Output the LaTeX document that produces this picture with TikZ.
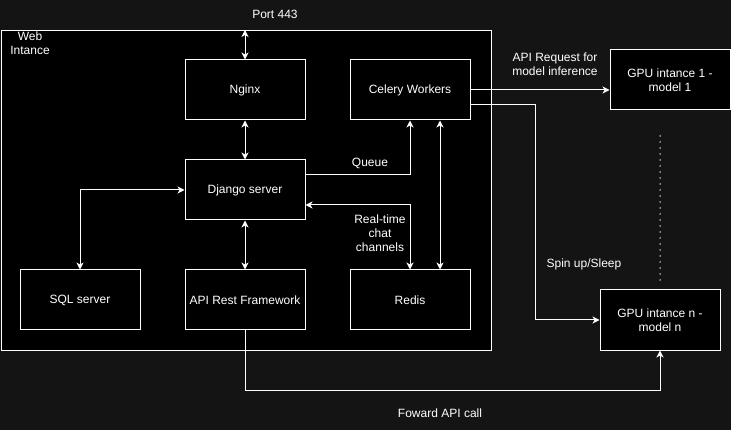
\documentclass[tikz,border=0pt]{standalone}
\usepackage{fontspec}
\setmainfont{Liberation Sans}
\usetikzlibrary{arrows.meta}
\definecolor{bgc}{RGB}{20,20,20}
\begin{document}
\begin{tikzpicture}[x=1pt,y=-1pt,
  box/.style={draw=white,fill=black,line width=1pt,minimum width=120pt,minimum height=60pt,inner sep=0pt,text=white,font=\fontsize{12}{14}\selectfont,align=center},
  lbl/.style={text=white,font=\fontsize{12}{14}\selectfont,align=center,inner sep=0pt},
  conn/.style={draw=white,line width=1pt,-{Stealth[length=7pt,width=7pt,inset=2pt]}},
  bconn/.style={draw=white,line width=1pt,{Stealth[length=7pt,width=7pt,inset=2pt]}-{Stealth[length=7pt,width=7pt,inset=2pt]}},
  line/.style={draw=white,line width=1pt}]
\fill[bgc] (0,0) rectangle (731,430);
\useasboundingbox (0,0) rectangle (731,430);
% web instance container
\node[draw=white,fill=black,line width=1pt,minimum width=490pt,minimum height=320pt,inner sep=0pt,anchor=north west] (web) at (0.5,30) {};
\node[lbl] (weblbl) at (30,43) {Web\\Intance};
% nodes
\node[box] (nginx) at (245,90) {Nginx};
\node[box] (celery) at (410,90) {Celery Workers};
\node[box] (django) at (245,190) {Django server};
\node[box] (sql) at (80,300) {SQL server};
\node[box] (api) at (245,300) {API Rest Framework};
\node[box] (redis) at (410,300) {Redis};
\node[box] (gpu1) at (670,80) {GPU intance 1 -\\model 1};
\node[box] (gpun) at (660,320) {GPU intance n -\\model n};
% labels
\node[lbl] (port) at (275,14) {Port 443};
\node[lbl] (queue) at (370,163) {Queue};
\node[lbl] (rt) at (380,233) {Real-time\\chat\\channels};
\node[lbl] (apireq) at (555,64) {API Request for\\model inference};
\node[lbl] (spin) at (584,264) {Spin up/Sleep};
\node[lbl] (fwd) at (440,413) {Foward API call};
\coordinate (top) at (245,30);
% connectors
\draw[bconn] (top) -- (nginx.north);
\draw[bconn] (nginx.south) -- (django.north);
\draw[bconn] (django.south) -- (api.north);
\draw[bconn] (sql.north) |- (django.west);
\draw[conn] (django.east |- 0,175) -| (celery.south);
\draw[bconn] (redis.north) |- (django.east |- 0,205);
\draw[bconn] ([xshift=30pt]celery.south) -- ([xshift=30pt]redis.north);
\draw[conn] (celery.east) -- (gpu1.west |- celery.east);
\draw[conn] (celery.east |- 0,105) -| (535,105) |- (gpun.west);
\draw[conn] (api.south) |- (660,390) -- (gpun.south);
\draw[white,line width=1.5pt,line cap=round,dash pattern=on 0pt off 6pt] (660,136) -- (660,280);
\end{tikzpicture}
\end{document}
